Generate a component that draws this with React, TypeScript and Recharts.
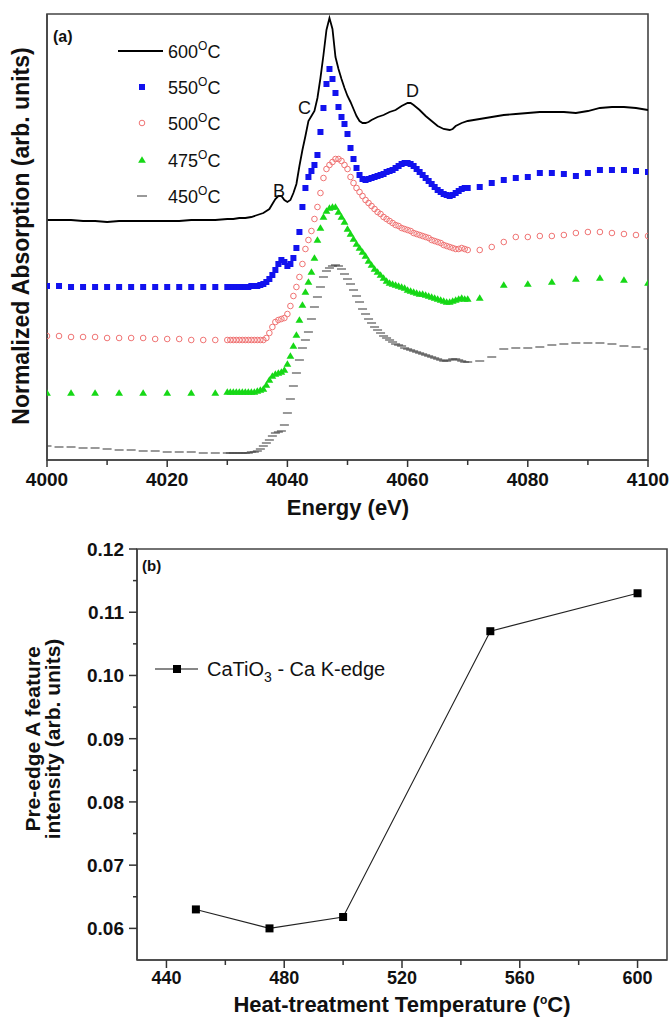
import React from 'react';
import { ComposedChart, Line, Scatter, XAxis, YAxis, ReferenceArea, Legend } from 'recharts';

// ---------- Panel (a): Ca K-edge XANES ----------
const denseEnergy = [4030,4030.5,4031,4031.5,4032,4032.5,4033,4033.5,4034,4034.5,4035,4035.5,4036,4036.5,4037,4037.5,4038,4038.5,4039,4039.5,4040,4040.5,4041,4041.5,4042,4042.5,4043,4043.5,4044,4044.5,4045,4045.5,4046,4046.5,4047,4047.5,4048,4048.5,4049,4049.5,4050,4050.5,4051,4051.5,4052,4052.5,4053,4053.5,4054,4054.5,4055,4055.5,4056,4056.5,4057,4057.5,4058,4058.5,4059,4059.5,4060,4060.5,4061,4061.5,4062,4062.5,4063,4063.5,4064,4064.5,4065,4065.5,4066,4066.5,4067,4067.5,4068,4068.5,4069,4069.5,4070];
const leftEnergy2 = [4000,4002,4004,4006,4008,4010,4012,4014,4016,4018,4020,4022,4024,4026,4028];
const rightEnergy2 = [4072,4074,4076,4078,4080,4082,4084,4086,4088,4090,4092,4094,4096,4098,4100];
const leftEnergy4 = [4000,4004,4008,4012,4016,4020,4024,4028];
const rightEnergy4 = [4072,4076,4080,4084,4088,4092,4096,4100];

const energy600 = [4000,4002,4004,4006,4008,4010,4012,4014,4016,4018,4020,4022,4024,4026,4028,4030,4031,4032,4033,4034,4035,4036,4037,4037.5,4038,4038.5,4039,4039.5,4040,4040.5,4041,4041.5,4042,4042.5,4043,4043.5,4044,4044.5,4045,4045.5,4046,4046.5,4047,4047.5,4048,4048.5,4049,4049.5,4050,4050.5,4051,4051.5,4052,4052.5,4053,4053.5,4054,4055,4056,4057,4058,4059,4060,4060.5,4061,4062,4063,4064,4065,4066,4067,4067.5,4068,4069,4070,4072,4074,4076,4078,4080,4082,4084,4086,4088,4090,4092,4094,4096,4098,4100];
const abs600 = [2.40,2.40,2.40,2.39,2.39,2.38,2.39,2.39,2.39,2.39,2.39,2.39,2.40,2.40,2.40,2.41,2.41,2.42,2.42,2.43,2.45,2.47,2.51,2.56,2.61,2.64,2.64,2.60,2.58,2.60,2.67,2.76,2.94,3.10,3.24,3.39,3.44,3.49,3.62,3.82,4.05,4.30,4.42,4.31,4.03,3.91,3.81,3.72,3.64,3.58,3.51,3.44,3.39,3.37,3.37,3.38,3.40,3.43,3.45,3.48,3.50,3.54,3.57,3.57,3.55,3.50,3.44,3.39,3.34,3.31,3.30,3.31,3.34,3.37,3.39,3.41,3.43,3.45,3.46,3.47,3.48,3.48,3.48,3.47,3.49,3.52,3.53,3.53,3.52,3.50];

const abs550Left = [1.74,1.74,1.73,1.73,1.73,1.73,1.73,1.73,1.73,1.73,1.73,1.73,1.73,1.73,1.73];
const abs550Dense = [1.73,1.73,1.73,1.73,1.73,1.73,1.73,1.73,1.74,1.74,1.74,1.75,1.76,1.78,1.81,1.85,1.90,1.96,2.00,1.98,1.94,1.96,2.02,2.12,2.28,2.53,2.72,2.83,2.89,2.95,3.05,3.28,3.52,3.76,3.91,3.81,3.67,3.53,3.43,3.36,3.26,3.12,3.01,2.92,2.85,2.81,2.80,2.81,2.82,2.83,2.84,2.85,2.86,2.88,2.89,2.90,2.92,2.94,2.96,2.97,2.97,2.96,2.94,2.91,2.88,2.85,2.82,2.79,2.76,2.73,2.70,2.68,2.66,2.65,2.64,2.65,2.67,2.69,2.71,2.72,2.72];
const abs550Right = [2.73,2.77,2.80,2.82,2.83,2.87,2.87,2.86,2.84,2.87,2.90,2.90,2.90,2.89,2.88];

const abs500Left = [1.24,1.24,1.23,1.23,1.23,1.22,1.22,1.22,1.22,1.21,1.21,1.21,1.20,1.20,1.20];
const abs500Dense = [1.20,1.20,1.20,1.20,1.20,1.20,1.20,1.20,1.20,1.20,1.20,1.20,1.20,1.22,1.27,1.33,1.38,1.40,1.41,1.42,1.46,1.54,1.64,1.73,1.83,1.96,2.11,2.20,2.29,2.41,2.53,2.67,2.82,2.91,2.95,2.98,3.01,3.01,2.99,2.95,2.91,2.83,2.77,2.72,2.68,2.64,2.60,2.57,2.54,2.51,2.48,2.46,2.43,2.41,2.39,2.37,2.35,2.34,2.32,2.31,2.30,2.29,2.27,2.26,2.25,2.24,2.23,2.22,2.20,2.19,2.18,2.17,2.15,2.14,2.13,2.12,2.11,2.11,2.12,2.11,2.10];
const abs500Right = [2.10,2.13,2.18,2.23,2.23,2.24,2.24,2.25,2.27,2.28,2.28,2.27,2.26,2.25,2.24];

const abs475Left = [0.67,0.67,0.67,0.67,0.67,0.67,0.67,0.67];
const abs475Dense = [0.68,0.68,0.68,0.68,0.68,0.68,0.68,0.68,0.68,0.68,0.69,0.70,0.71,0.75,0.80,0.84,0.86,0.87,0.88,0.90,0.96,1.04,1.14,1.25,1.40,1.55,1.68,1.78,1.88,2.02,2.20,2.32,2.43,2.49,2.52,2.53,2.53,2.48,2.43,2.38,2.31,2.26,2.21,2.16,2.12,2.08,2.04,1.99,1.95,1.91,1.88,1.85,1.82,1.79,1.77,1.76,1.75,1.74,1.73,1.72,1.70,1.69,1.68,1.67,1.66,1.66,1.65,1.64,1.63,1.62,1.61,1.60,1.59,1.58,1.58,1.59,1.60,1.61,1.62,1.61,1.61];
const abs475Right = [1.62,1.75,1.76,1.78,1.81,1.82,1.80,1.77];

const abs450Left = [0.14,0.13,0.13,0.12,0.12,0.11,0.10,0.10,0.09,0.09,0.08,0.08,0.08,0.07,0.07];
const abs450Dense = [0.07,0.07,0.07,0.07,0.07,0.07,0.07,0.07,0.08,0.08,0.09,0.11,0.14,0.17,0.20,0.24,0.27,0.28,0.29,0.35,0.47,0.61,0.74,0.87,1.00,1.12,1.20,1.28,1.41,1.53,1.63,1.73,1.83,1.89,1.92,1.94,1.95,1.94,1.91,1.86,1.81,1.76,1.70,1.64,1.58,1.51,1.46,1.41,1.37,1.33,1.30,1.27,1.24,1.22,1.20,1.18,1.16,1.15,1.14,1.12,1.11,1.10,1.09,1.08,1.07,1.06,1.05,1.04,1.03,1.02,1.01,1.00,0.99,0.99,1.00,1.01,1.01,1.00,0.99,0.98,0.98];
const abs450Right = [0.99,1.03,1.11,1.12,1.12,1.13,1.15,1.16,1.17,1.17,1.17,1.16,1.14,1.13,1.11];

const energyTicks = [4000,4010,4020,4030,4040,4050,4060,4070,4080,4090,4100];
const seriesLabelsA = ['600', '550', '500', '475', '450'];

// ---------- Panel (b): pre-edge A intensity ----------
const temperatures = [450, 475, 500, 550, 600];
const preEdgeIntensity = [0.063, 0.060, 0.0618, 0.107, 0.113];
const tempTicks = [440, 460, 480, 500, 520, 540, 560, 580, 600];
const intensityTicks = [0.06, 0.065, 0.07, 0.075, 0.08, 0.085, 0.09, 0.095, 0.10, 0.105, 0.11, 0.115, 0.12];
const legendLabelB = 'CaTiO';

const pts = (es: number[], vs: number[]) => es.map((e, i) => ({ e, v: vs[i] }));

const s600 = pts(energy600, abs600);
const s550 = [...pts(leftEnergy2, abs550Left), ...pts(denseEnergy, abs550Dense), ...pts(rightEnergy2, abs550Right)];
const s500 = [...pts(leftEnergy2, abs500Left), ...pts(denseEnergy, abs500Dense), ...pts(rightEnergy2, abs500Right)];
const s475 = [...pts(leftEnergy4, abs475Left), ...pts(denseEnergy, abs475Dense), ...pts(rightEnergy4, abs475Right)];
const s450 = [...pts(leftEnergy2, abs450Left), ...pts(denseEnergy, abs450Dense), ...pts(rightEnergy2, abs450Right)];
const sB = temperatures.map((t, i) => ({ t, v: preEdgeIntensity[i] }));

const FONT = '"Liberation Sans", Arial, Helvetica, sans-serif';
const BLUE = '#1212ee';
const RED = '#f07474';
const GREEN = '#16d816';
const GRAY = '#444';

const BlueSquare = (p: any) => <rect x={p.cx - 3} y={p.cy - 3} width={6} height={6} fill={BLUE} />;
const RedCircle = (p: any) => <circle cx={p.cx} cy={p.cy} r={2.8} fill="none" stroke={RED} strokeWidth={1} />;
const GreenTri = (p: any) => (
  <polygon points={`${p.cx},${p.cy - 3.8} ${p.cx + 3.9},${p.cy + 2.8} ${p.cx - 3.9},${p.cy + 2.8}`} fill={GREEN} />
);
const GrayDash = (p: any) => <rect x={p.cx - 4.5} y={p.cy - 0.9} width={9} height={1.8} fill={GRAY} fillOpacity={0.6} />;

const TickA = (props: any) => {
  const { x, y, payload } = props;
  const v = payload.value;
  const major = v % 20 === 0;
  return (
    <g>
      <line x1={x} y1={y} x2={x} y2={y + (major ? 7 : 5)} stroke="#333" strokeWidth={1.5} />
      {major && (
        <text x={x} y={y + 26} textAnchor="middle" fontSize={19} fontWeight="bold" fill="#111" fontFamily={FONT}>
          {v}
        </text>
      )}
    </g>
  );
};

const TickBX = (props: any) => {
  const { x, y, payload } = props;
  const v = payload.value;
  const major = v % 40 === 0;
  return (
    <g>
      <line x1={x} y1={y} x2={x} y2={y + (major ? 8 : 5)} stroke="#333" strokeWidth={1.5} />
      {major && (
        <text x={x} y={y + 24} textAnchor="middle" fontSize={18} fontWeight="bold" fill="#111" fontFamily={FONT}>
          {v}
        </text>
      )}
    </g>
  );
};

const TickBY = (props: any) => {
  const { x, y, payload } = props;
  const v = payload.value;
  const major = Math.abs(v * 100 - Math.round(v * 100)) < 1e-6;
  return (
    <g>
      <line x1={x} y1={y} x2={x - (major ? 8 : 4)} y2={y} stroke="#333" strokeWidth={1.5} />
      {major && (
        <text x={x - 13} y={y} dy="0.36em" textAnchor="end" fontSize={19} fontWeight="bold" fill="#111" fontFamily={FONT}>
          {v.toFixed(2)}
        </text>
      )}
    </g>
  );
};

const LegendA = () => {
  const rows = [51, 87, 123, 160, 196];
  const mk = [
    <line key="m0" x1={118} y1={rows[0]} x2={163} y2={rows[0]} stroke="#000" strokeWidth={2} />,
    <BlueSquare key="m1" cx={142} cy={rows[1]} />,
    <RedCircle key="m2" cx={142} cy={rows[2]} />,
    <GreenTri key="m3" cx={142} cy={rows[3]} />,
    <rect key="m4" x={137} y={rows[4] - 1} width={10} height={2} fill="#999" />,
  ];
  return (
    <svg width={671} height={530} style={{ position: 'absolute', left: 0, top: 0 }}>
      {mk}
      {seriesLabelsA.map((lab, i) => (
        <text key={lab} x={168} y={rows[i] + 7} fontSize={18} fill="#111" fontFamily={FONT}>
          {lab}
          <tspan dy={-8} fontSize={12}>O</tspan>
          <tspan dy={8}>C</tspan>
        </text>
      ))}
    </svg>
  );
};

const LegendB = () => (
  <svg width={671} height={491} style={{ position: 'absolute', left: 0, top: 0 }}>
    <line x1={155} y1={139} x2={198} y2={139} stroke="#111" strokeWidth={1.2} />
    <rect x={173} y={135} width={8} height={8} fill="#000" />
    <text x={207} y={146} fontSize={20} fill="#111" fontFamily={FONT}>
      {legendLabelB}
      <tspan dy={6} fontSize={14}>3</tspan>
      <tspan dy={-6}> - Ca K-edge</tspan>
    </text>
  </svg>
);

export default function App() {
  return (
    <div style={{ position: 'absolute', left: 0, top: 0, width: 671, height: 1021, background: '#fff', fontFamily: FONT }}>
      {/* Panel (a) */}
      <div style={{ position: 'absolute', left: 0, top: 0, width: 671, height: 530 }}>
        <ComposedChart width={671} height={530} margin={{ top: 14, right: 23, bottom: 0, left: 0 }}>
          <XAxis
            type="number"
            dataKey="e"
            domain={[4000, 4100]}
            ticks={energyTicks}
            interval={0}
            allowDataOverflow
            height={70}
            tickSize={0}
            tickMargin={0}
            tickLine={false}
            tick={(p: any) => <TickA {...p} />}
            axisLine={{ stroke: '#444', strokeWidth: 1.6 }}
          />
          <YAxis
            type="number"
            dataKey="v"
            domain={[0, 4.46]}
            allowDataOverflow
            width={47}
            tick={false}
            tickLine={false}
            axisLine={{ stroke: '#444', strokeWidth: 1.6 }}
          />
          <ReferenceArea x1={4000} x2={4100} y1={0} y2={4.46} fill="none" stroke="#444" strokeWidth={1.6} />
          <Scatter name="450°C" data={s450} dataKey="v" shape={GrayDash} isAnimationActive={false} />
          <Scatter name="475°C" data={s475} dataKey="v" shape={GreenTri} isAnimationActive={false} />
          <Scatter name="500°C" data={s500} dataKey="v" shape={RedCircle} isAnimationActive={false} />
          <Scatter name="550°C" data={s550} dataKey="v" shape={BlueSquare} isAnimationActive={false} />
          <Line name="600°C" data={s600} dataKey="v" type="linear" stroke="#000" strokeWidth={1.8} dot={false} isAnimationActive={false} />
          <Legend
            layout="vertical"
            align="center"
            verticalAlign="middle"
            content={() => <LegendA />}
            wrapperStyle={{ left: 0, top: 0, width: 671, height: 530, pointerEvents: 'none' }}
          />
        </ComposedChart>
        <svg width={671} height={530} style={{ position: 'absolute', left: 0, top: 0, pointerEvents: 'none' }}>
          <text x={53} y={42} fontSize={16} fontWeight="bold" fill="#111" fontFamily={FONT}>(a)</text>
          <text x={273} y={197} fontSize={18} fill="#111" fontFamily={FONT}>B</text>
          <text x={298} y={114} fontSize={18} fill="#111" fontFamily={FONT}>C</text>
          <text x={406} y={97} fontSize={18} fill="#111" fontFamily={FONT}>D</text>
          <text x={348} y={515} textAnchor="middle" fontSize={22} fontWeight="bold" fill="#111" fontFamily={FONT}>Energy (eV)</text>
          <text transform="translate(29,236) rotate(-90)" textAnchor="middle" fontSize={23} fontWeight="bold" fill="#111" fontFamily={FONT}>
            Normalized Absorption (arb. units)
          </text>
        </svg>
      </div>

      {/* Panel (b) */}
      <div style={{ position: 'absolute', left: 0, top: 530, width: 671, height: 491 }}>
        <ComposedChart width={671} height={491} margin={{ top: 19, right: 4, bottom: 0, left: 0 }}>
          <XAxis
            type="number"
            dataKey="t"
            domain={[430, 610]}
            ticks={tempTicks}
            interval={0}
            allowDataOverflow
            height={61}
            tickSize={0}
            tickMargin={0}
            tickLine={false}
            tick={(p: any) => <TickBX {...p} />}
            axisLine={{ stroke: '#444', strokeWidth: 1.6 }}
          />
          <YAxis
            type="number"
            dataKey="v"
            domain={[0.055, 0.12]}
            ticks={intensityTicks}
            interval={0}
            allowDataOverflow
            width={137}
            tickSize={0}
            tickMargin={0}
            tickLine={false}
            tick={(p: any) => <TickBY {...p} />}
            axisLine={{ stroke: '#444', strokeWidth: 1.6 }}
          />
          <ReferenceArea x1={430} x2={610} y1={0.055} y2={0.12} fill="none" stroke="#444" strokeWidth={1.6} />
          <Line
            name="CaTiO3 - Ca K-edge"
            data={sB}
            dataKey="v"
            type="linear"
            stroke="#222"
            strokeWidth={1.1}
            dot={(p: any) => <rect key={`d${p.index}`} x={p.cx - 4} y={p.cy - 4} width={8} height={8} fill="#000" />}
            isAnimationActive={false}
          />
          <Legend
            layout="vertical"
            align="center"
            verticalAlign="middle"
            content={() => <LegendB />}
            wrapperStyle={{ left: 0, top: 0, width: 671, height: 491, pointerEvents: 'none' }}
          />
        </ComposedChart>
        <svg width={671} height={491} style={{ position: 'absolute', left: 0, top: 0, pointerEvents: 'none' }}>
          <text x={142} y={41} fontSize={15} fontWeight="bold" fill="#111" fontFamily={FONT}>(b)</text>
          <text x={402} y={482} textAnchor="middle" fontSize={22} fontWeight="bold" fill="#111" fontFamily={FONT}>
            Heat-treatment Temperature (<tspan dy={-8} fontSize={12}>o</tspan><tspan dy={8}>C)</tspan>
          </text>
          <text transform="translate(40,209) rotate(-90)" textAnchor="middle" fontSize={21} fontWeight="bold" fill="#111" fontFamily={FONT}>
            Pre-edge A feature
          </text>
          <text transform="translate(60,209) rotate(-90)" textAnchor="middle" fontSize={21} fontWeight="bold" fill="#111" fontFamily={FONT}>
            intensity (arb. units)
          </text>
        </svg>
      </div>
    </div>
  );
}
